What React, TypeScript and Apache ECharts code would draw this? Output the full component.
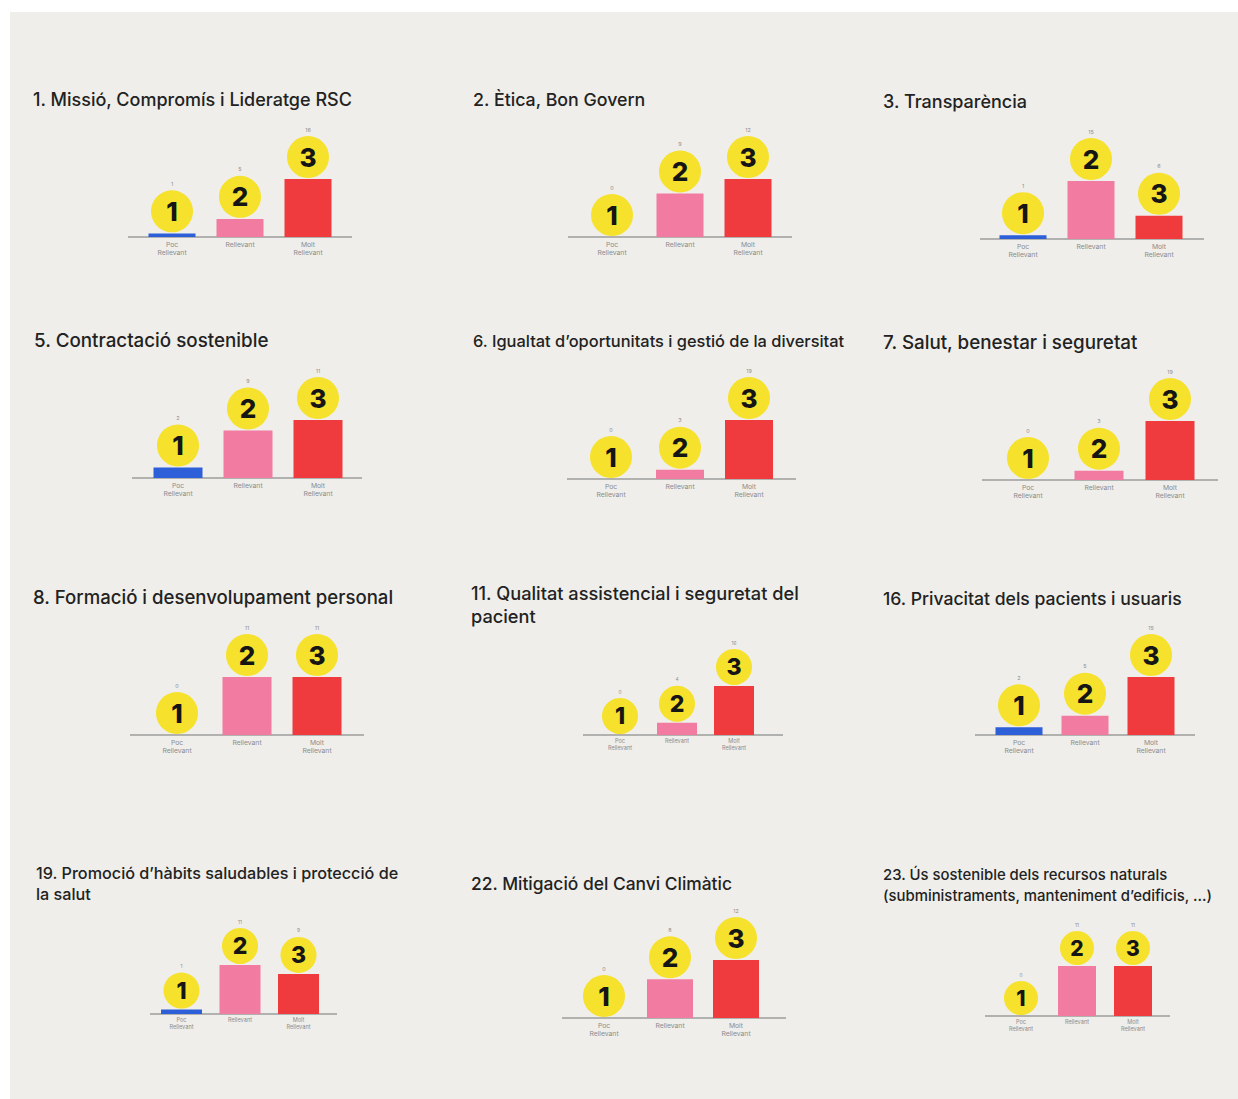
import React, { useEffect, useRef } from "react";
import * as echarts from "echarts";

// ---------- data ----------
const categories = ["Poc\nRellevant", "Rellevant", "Molt\nRellevant"];
const titles = [
  "1. Missió, Compromís i Lideratge RSC",
  "2. Ètica, Bon Govern",
  "3. Transparència",
  "5. Contractació sostenible",
  "6. Igualtat d’oportunitats i gestió de la diversitat",
  "7. Salut, benestar i seguretat",
  "8. Formació i desenvolupament personal",
  "11. Qualitat assistencial i seguretat del\npacient",
  "16. Privacitat dels pacients i usuaris",
  "19. Promoció d’hàbits saludables i protecció de\nla salut",
  "22. Mitigació del Canvi Climàtic",
  "23. Ús sostenible dels recursos naturals\n(subministraments, manteniment d’edificis, ...)",
];
const pocRellevant = [1, 0, 1, 2, 0, 0, 0, 0, 2, 1, 0, 0];
const rellevant = [5, 9, 15, 9, 3, 3, 11, 4, 5, 11, 8, 11];
const moltRellevant = [16, 12, 6, 11, 19, 19, 11, 16, 15, 9, 12, 11];
const badgeNumbers = ["1", "2", "3"];

// ---------- layout (positions / sizes only) ----------
const panelCx = [240, 680, 1091, 248, 680, 1099, 247, 677, 1085, 240, 670, 1077];
const panelBase = [237, 237, 239, 478, 479, 480, 735, 735, 735, 1014, 1018, 1016];
const panelSpacing = [68, 68, 68, 70, 69, 71, 70, 57, 66, 58.5, 66, 56];
const panelBarW = [47, 47, 47, 49, 48, 49, 49, 40, 47, 41, 46, 38];
const panelMaxPx = [58, 58, 58, 58, 59, 59, 58, 49, 58, 49, 58, 50];
const panelRadius = [21, 21, 21, 21, 21, 21, 21, 18, 21, 18, 21, 17];
const lineX1 = [128, 568, 980, 132, 567, 982, 130, 583, 975, 150, 562, 985];
const lineX2 = [352, 792, 1204, 362, 796, 1218, 364, 783, 1195, 337, 786, 1170];

const titleX = [33, 473, 883, 34, 473, 883, 33, 471, 883, 36, 471, 883];
const titleY = [99, 99, 101, 340, 341, 342, 597, 593, 598, 873, 883, 875];
const titleSize = [18, 17.8, 18, 18.8, 16.4, 18.8, 18.6, 18.2, 17.6, 16.2, 17.4, 14.9];
const titleLH = [22, 22, 22, 22, 20, 21, 21, 23, 21, 21, 21, 21];

const COLORS = ["#2c5fd8", "#f27ba2", "#ef3a3e"];
const YELLOW = "#f6e22c";

export default function App() {
  const ref = useRef<HTMLDivElement>(null);

  useEffect(() => {
    document.body.style.margin = "0";
    if (!ref.current) return;
    const chart = echarts.init(ref.current, null, { renderer: "svg" });

    const grid: any[] = [];
    const xAxis: any[] = [];
    const yAxis: any[] = [];
    const series: any[] = [];
    const title: any[] = [];
    const graphic: any[] = [
      {
        type: "rect",
        z: -10,
        silent: true,
        shape: { x: 10, y: 12, width: 1238 - 10, height: 1099 - 12 },
        style: { fill: "#efeeea" },
      },
    ];

    titles.forEach((t, i) => {
      const vals = [pocRellevant[i], rellevant[i], moltRellevant[i]];
      const maxV = Math.max(...vals);
      const sp = panelSpacing[i];
      const r = panelRadius[i];
      const small = r < 20;

      grid.push({
        left: panelCx[i] - 1.5 * sp,
        width: 3 * sp,
        top: panelBase[i] - panelMaxPx[i],
        height: panelMaxPx[i],
        containLabel: false,
        outerBoundsMode: "none",
      });
      xAxis.push({
        type: "category",
        gridIndex: i,
        data: categories,
        axisLine: { show: false },
        axisTick: { show: false },
        axisLabel: {
          interval: 0,
          margin: 3,
          fontSize: small ? 5.6 : 6.8,
          lineHeight: small ? 6.5 : 8,
          color: "#8c8c8c",
          fontFamily: "Inter",
        },
      });
      yAxis.push({
        type: "value",
        gridIndex: i,
        min: 0,
        max: maxV,
        show: false,
        splitLine: { show: false },
      });
      series.push({
        type: "bar",
        xAxisIndex: i,
        yAxisIndex: i,
        barWidth: panelBarW[i],
        data: vals.map((v, k) => ({ value: v, itemStyle: { color: COLORS[k] } })),
        label: {
          show: true,
          position: "top",
          distance: 2 * r + 5,
          fontSize: small ? 4.8 : 5.4,
          color: "#8c8c8c",
          fontFamily: "Inter",
        },
        silent: true,
      });
      series.push({
        type: "scatter",
        xAxisIndex: i,
        yAxisIndex: i,
        clip: false,
        symbol: "circle",
        symbolSize: 2 * r,
        symbolOffset: [0, -(r + 1)],
        itemStyle: { color: YELLOW, opacity: 1 },
        data: vals,
        z: 5,
        label: {
          show: true,
          position: "inside",
          formatter: (p: any) => badgeNumbers[p.dataIndex],
          fontSize: Math.round(r * 1.25),
          fontWeight: 800,
          color: "#151515",
          fontFamily: "Inter",
        },
        silent: true,
      });
      graphic.push({
        type: "line",
        silent: true,
        z: 1,
        shape: { x1: lineX1[i], y1: panelBase[i], x2: lineX2[i], y2: panelBase[i] },
        style: { stroke: "#9d9d9d", lineWidth: 1.5 },
      });
      title.push({
        text: t,
        left: titleX[i],
        top: titleY[i] - titleLH[i] / 2,
        padding: 0,
        textStyle: {
          fontSize: titleSize[i],
          fontWeight: 500,
          color: "#222222",
          fontFamily: "Inter",
          lineHeight: titleLH[i],
        },
      });
    });

    chart.setOption({
      animation: false,
      backgroundColor: "#ffffff",
      title,
      grid,
      xAxis,
      yAxis,
      series,
      graphic,
    });

    return () => chart.dispose();
  }, []);

  return <div ref={ref} style={{ width: 1238, height: 1099 }} />;
}
